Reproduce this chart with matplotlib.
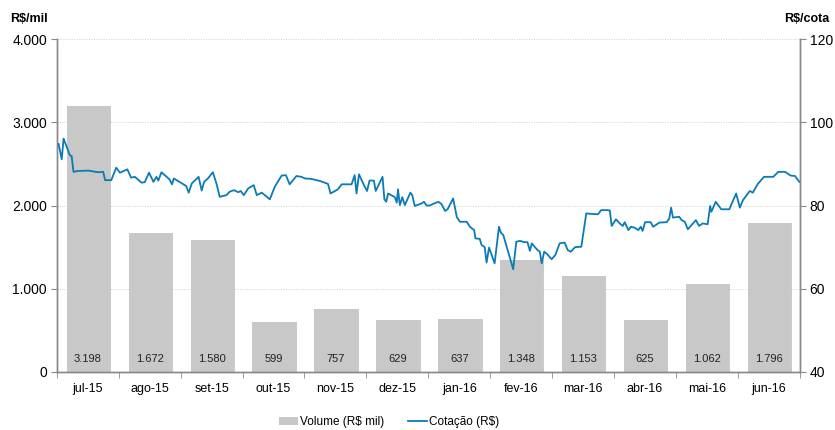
import numpy as np
import matplotlib.pyplot as plt
from matplotlib.ticker import FuncFormatter, FixedLocator

plt.rcParams['font.family'] = ['Liberation Sans Narrow', 'Liberation Sans', 'DejaVu Sans']

# monthly volume (R$ mil)
months = ['jul-15', 'ago-15', 'set-15', 'out-15', 'nov-15', 'dez-15',
          'jan-16', 'fev-16', 'mar-16', 'abr-16', 'mai-16', 'jun-16']
volume = [3198, 1672, 1580, 599, 757, 629, 637, 1348, 1153, 625, 1062, 1796]
volume_lbl = ['3.198', '1.672', '1.580', '599', '757', '629',
              '637', '1.348', '1.153', '625', '1.062', '1.796']

# quote (R$/cota), time in months since 1 jul 2015
cot_t = [0.03, 0.08, 0.11, 0.21, 0.24, 0.27, 0.34, 0.51, 0.67, 0.75, 0.78, 0.88,
         0.96, 1.02, 1.14, 1.20, 1.26, 1.37, 1.42, 1.49, 1.56, 1.61, 1.64, 1.69,
         1.82, 1.86, 1.89, 2.09, 2.13, 2.18, 2.29, 2.34, 2.38, 2.44, 2.52, 2.58,
         2.63, 2.74, 2.79, 2.86, 2.93, 2.97, 3.02, 3.09, 3.18, 3.23, 3.31, 3.44,
         3.52, 3.63, 3.70, 3.76, 3.87, 3.95, 4.01, 4.11, 4.25, 4.38, 4.42, 4.54,
         4.60, 4.76, 4.81, 4.84, 4.88, 4.96, 5.01, 5.05, 5.12, 5.15, 5.26, 5.29,
         5.32, 5.35, 5.46, 5.49, 5.51, 5.54, 5.58, 5.62, 5.71, 5.74, 5.78, 5.89,
         5.93, 5.97, 6.02, 6.08, 6.16, 6.21, 6.27, 6.31, 6.40, 6.46, 6.51, 6.62,
         6.67, 6.74, 6.76, 6.83, 6.86, 6.91, 6.94, 6.98, 7.07, 7.14, 7.17, 7.21,
         7.37, 7.42, 7.48, 7.55, 7.60, 7.64, 7.67, 7.75, 7.80, 7.83, 7.87, 7.92,
         7.99, 8.05, 8.12, 8.20, 8.25, 8.30, 8.37, 8.47, 8.55, 8.63, 8.74, 8.79,
         8.90, 8.93, 8.96, 9.03, 9.09, 9.14, 9.17, 9.23, 9.27, 9.33, 9.39, 9.43,
         9.46, 9.50, 9.59, 9.63, 9.73, 9.85, 9.89, 9.92, 9.95, 10.05, 10.09, 10.14,
         10.19, 10.25, 10.32, 10.37, 10.43, 10.51, 10.55, 10.57, 10.64, 10.73, 10.86,
         10.97, 11.03, 11.08, 11.19, 11.24, 11.32, 11.42, 11.57, 11.65, 11.76, 11.85,
         11.92, 11.99]
cot_v = [94.8, 91.1, 96.1, 92.1, 91.9, 88.1, 88.3, 88.4, 88.0, 88.1, 86.1, 86.1,
         89.1, 87.9, 88.7, 86.7, 86.9, 85.5, 85.6, 87.9, 85.7, 86.9, 86.0, 88.0,
         86.3, 85.1, 86.5, 84.7, 83.1, 85.3, 86.9, 83.6, 85.7, 86.5, 88.0, 85.2,
         82.1, 82.5, 83.3, 83.7, 83.2, 83.5, 82.5, 84.1, 84.9, 82.5, 83.1, 81.5,
         84.5, 87.2, 87.3, 85.1, 87.1, 86.9, 86.5, 86.4, 85.9, 85.2, 82.9, 83.9,
         85.1, 85.1, 87.3, 82.9, 87.5, 84.9, 83.5, 86.0, 86.0, 83.5, 86.9, 81.5,
         80.9, 82.9, 82.0, 80.7, 83.9, 80.1, 82.0, 80.1, 83.1, 82.5, 79.9, 80.5,
         80.9, 80.0, 80.0, 80.4, 80.9, 80.4, 78.7, 79.1, 81.7, 77.2, 76.1, 76.1,
         74.9, 74.1, 72.1, 72.0, 70.5, 70.0, 66.3, 69.9, 66.1, 74.9, 73.5, 72.9,
         64.7, 71.3, 71.5, 71.2, 71.2, 69.1, 70.9, 69.5, 68.9, 66.1, 68.9, 68.3,
         67.1, 68.1, 70.9, 71.1, 69.3, 68.9, 70.0, 70.1, 78.1, 78.0, 77.9, 78.9,
         78.9, 78.8, 75.1, 76.7, 75.7, 75.1, 76.0, 74.1, 74.9, 74.7, 74.1, 74.9,
         73.9, 76.0, 76.0, 74.9, 75.9, 76.0, 76.9, 79.5, 77.1, 77.3, 76.5, 76.1,
         74.3, 75.3, 76.5, 75.1, 75.7, 75.5, 79.9, 78.5, 80.9, 79.1, 79.1,
         82.9, 79.5, 81.3, 83.5, 83.1, 85.2, 86.9, 86.9, 88.1, 88.1, 87.2,
         87.1, 85.7]

bar_color = '#c8c8c8'
line_color = '#0a7bb6'
axis_color = '#888888'

fig = plt.figure(figsize=(8.35, 4.3), dpi=100)
ax = fig.add_axes([0.068, 0.135, 0.890, 0.774])
ax2 = ax.twinx()

x = np.arange(len(months)) + 0.5
w = 0.68
# shadow behind the bars
ax.bar(x + 0.035, volume, width=w, color='#a8a8a8', alpha=0.6, zorder=1)
bars = ax.bar(x, volume, width=w, color=bar_color, zorder=2, label='Volume (R$ mil)')
for xi, lbl in zip(x, volume_lbl):
    ax.text(xi, 150, lbl, ha='center', va='center', fontsize=8, color='#222222', zorder=3)

ax2.plot(cot_t, cot_v, color=line_color, lw=1.3, label='Cotação (R$)', zorder=4)

ax.set_xlim(0, 12)
ax.set_ylim(0, 4000)
ax2.set_ylim(40, 120)
ax.set_yticks([0, 1000, 2000, 3000, 4000])
ax2.set_yticks([40, 60, 80, 100, 120])
ax.yaxis.set_major_formatter(FuncFormatter(lambda v, p: f'{int(v):,}'.replace(',', '.')))

ax.set_xticks(x)
ax.set_xticklabels(months)
ax.xaxis.set_minor_locator(FixedLocator(np.arange(0, 13)))
ax.tick_params(axis='x', which='major', length=0, pad=8, labelsize=9)
ax.tick_params(axis='x', which='minor', length=4, color=axis_color)
ax.tick_params(axis='y', length=4, color=axis_color, labelsize=10, pad=3)
ax2.tick_params(axis='y', length=4, color=axis_color, labelsize=10, pad=3)

ax.yaxis.grid(True, color='#d0d0d0', linestyle=(0, (1, 1.5)), linewidth=0.7)
ax.set_axisbelow(True)

for a in (ax, ax2):
    a.spines['top'].set_visible(False)
    for s in ('left', 'right', 'bottom'):
        a.spines[s].set_color(axis_color)
        a.spines[s].set_linewidth(1.0)

fig.text(0.012, 0.955, 'R$/mil', fontsize=9, fontweight='bold', ha='left', va='center')
fig.text(0.993, 0.955, 'R$/cota', fontsize=9, fontweight='bold', ha='right', va='center')

h1, l1 = ax.get_legend_handles_labels()
h2, l2 = ax2.get_legend_handles_labels()
fig.legend(h1 + h2, l1 + l2, loc='center', bbox_to_anchor=(0.466, 0.018), ncol=2,
           frameon=False, fontsize=8.5, handlelength=1.6, handleheight=0.6,
           columnspacing=2.0, handletextpad=0.2)

fig.savefig('out.png', dpi=100)
